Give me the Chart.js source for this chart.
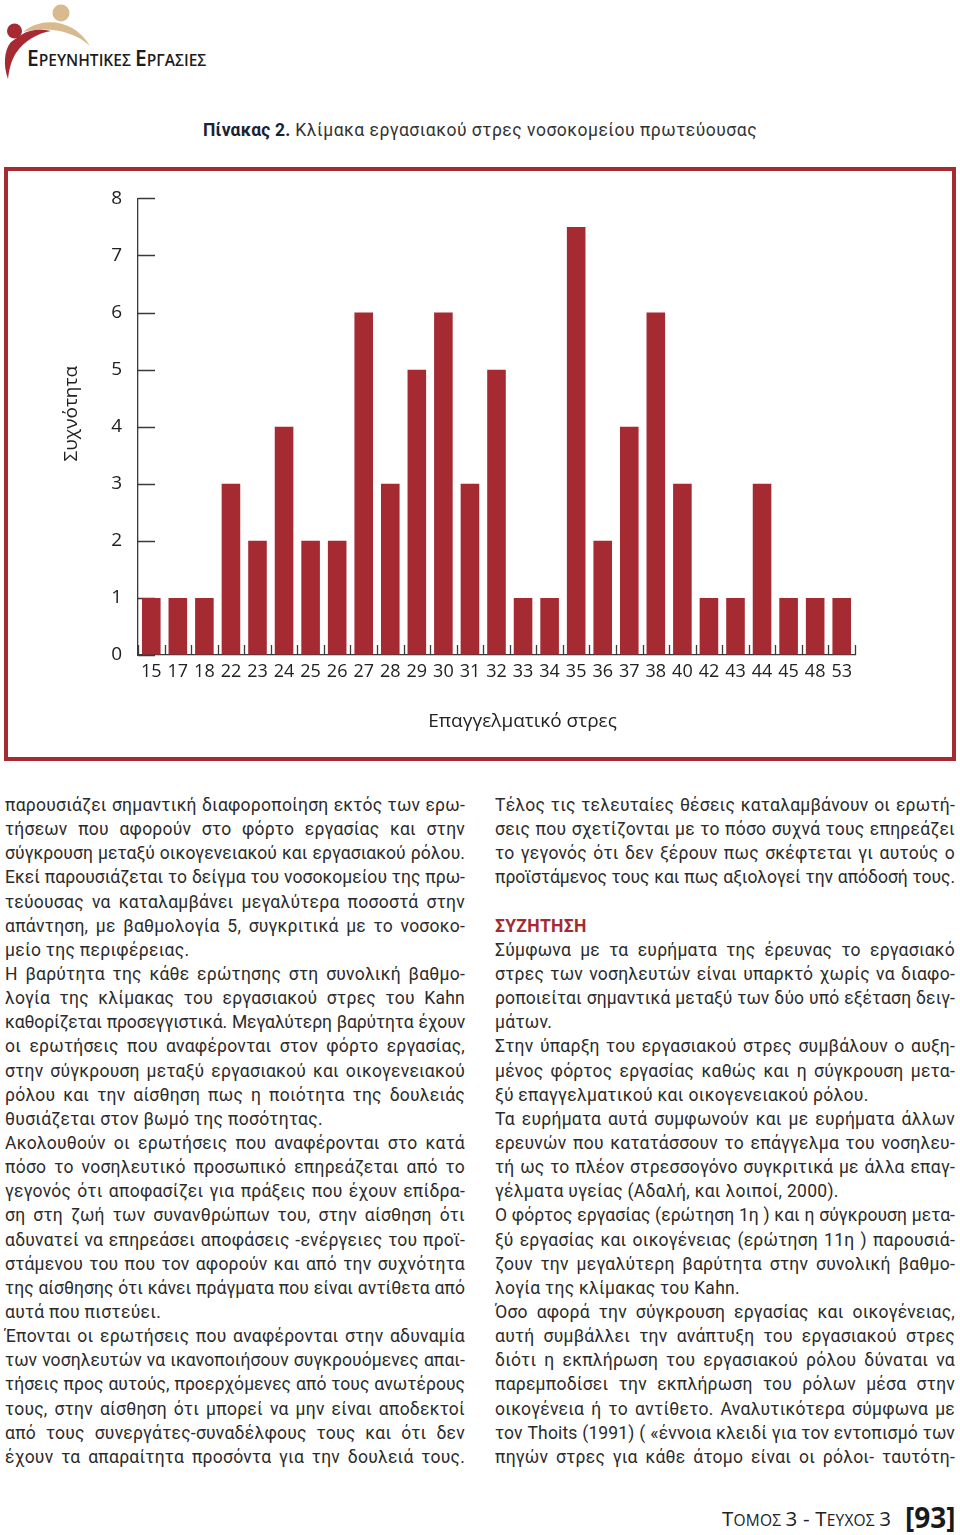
<!DOCTYPE html>
<html>
<head>
<meta charset="utf-8">
<script src="https://cdn.jsdelivr.net/npm/chart.js@4.4.1/dist/chart.umd.min.js"></script>
<style>
  body { margin: 0; background: #fff; font-family: Roboto, "Noto Sans", sans-serif; color: #2b2b2b; }
  #page { position: relative; width: 960px; height: 1535px; overflow: hidden; }
  .abs { position: absolute; }
  #logoText { left: 27px; top: 44px; font-family: "Open Sans", sans-serif; font-weight: 600; color: #1d1d1d; white-space: nowrap; }
  #logoText .big { font-size: 21px; }
  #logoText .sm { font-size: 15.5px; }
  #caption { left: 203px; top: 120px; font-size: 17.5px; letter-spacing: 0.5px; color: #333; white-space: nowrap; }
  #caption b { color: #1b2236; letter-spacing: 0.2px; }
  #frame { left: 4px; top: 167px; width: 944px; height: 586px; border: 4px solid #a52a32; }
  #wrap { position: absolute; left: 0; top: 0; width: 944px; height: 586px; }
  .col { width: 460px; }
  .ln { height: 24.15px; line-height: 24.15px; font-size: 17.5px; letter-spacing: 0.3px; white-space: nowrap; text-align: justify; text-align-last: justify; }
  .ln.last { text-align-last: left; }
  .ln.head { color: #a52a32; font-weight: 700; }
  #footer { left: 722px; top: 1504px; font-family: "Open Sans", sans-serif; color: #222; white-space: nowrap; letter-spacing: 0.2px; }
  #footer .big { font-size: 20.5px; }
  #footer .sm { font-size: 15.5px; }
  #pageNo { left: 905px; top: 1498px; font-family: "Open Sans", sans-serif; font-weight: 700; font-size: 28px; color: #1a1a1a; }
</style>
</head>
<body>
<div id="page">
  <svg class="abs" style="left:0;top:0" width="100" height="82" viewBox="0 0 100 82">
    <circle cx="61" cy="13" r="8.5" fill="#d9b98e"/>
    <path d="M23,32 C42,16 74,19 90,46 C74,31 48,26 23,32 Z" fill="#d9b98e"/>
    <circle cx="14.5" cy="31" r="7.5" fill="#a52a32"/>
    <path d="M21,35 C30,29 41,29 51,31 C38,33 24,41 16,53 C11,61 9,70 8,79 C3,66 4,50 11,42 Z" fill="#a52a32"/>
  </svg>
  <div id="logoText" class="abs"><span class="big">Ε</span><span class="sm">ΡΕΥΝΗΤΙΚΕΣ</span> <span class="big">Ε</span><span class="sm">ΡΓΑΣΙΕΣ</span></div>

  <div id="caption" class="abs"><b>Πίνακας 2.</b> Κλίμακα εργασιακού στρες νοσοκομείου πρωτεύουσας</div>

  <div id="frame" class="abs">
    <div id="wrap"><canvas id="stressChart"></canvas></div>
  </div>

  <div id="leftCol" class="abs col" style="left:5px;top:793px"></div>
  <div id="rightCol" class="abs col" style="left:495px;top:793px"></div>

  <div id="footer" class="abs"><span class="big">Τ</span><span class="sm">ΟΜΟΣ</span> <span class="big">3 - Τ</span><span class="sm">ΕΥΧΟΣ</span> <span class="big">3</span></div>
  <div id="pageNo" class="abs">[93]</div>
</div>

<script>
// chart data
var stressScores = ['15','17','18','22','23','24','25','26','27','28','29','30','31','32','33','34','35','36','37','38','40','42','43','44','45','48','53'];
var frequencies  = [1, 1, 1, 3, 2, 4, 2, 2, 6, 3, 5, 6, 3, 5, 1, 1, 7.5, 2, 4, 6, 3, 1, 1, 3, 1, 1, 1];
var yTickValues  = [0, 1, 2, 3, 4, 5, 6, 7, 8];
var yTitle = 'Συχνότητα';
var xTitle = 'Επαγγελματικό στρες';

// body text, '~' marks a paragraph's last (not justified) line
var leftLines = [
  'παρουσιάζει σημαντική διαφοροποίηση εκτός των ερω-',
  'τήσεων που αφορούν στο φόρτο εργασίας και στην',
  'σύγκρουση μεταξύ οικογενειακού και εργασιακού ρόλου.',
  'Εκεί παρουσιάζεται το δείγμα του νοσοκομείου της πρω-',
  'τεύουσας να καταλαμβάνει μεγαλύτερα ποσοστά στην',
  'απάντηση, με βαθμολογία 5,  συγκριτικά με το νοσοκο-',
  '~μείο της περιφέρειας.',
  'Η βαρύτητα της κάθε ερώτησης στη συνολική βαθμο-',
  'λογία της κλίμακας του εργασιακού στρες του Kahn',
  'καθορίζεται προσεγγιστικά. Μεγαλύτερη βαρύτητα έχουν',
  'οι ερωτήσεις που αναφέρονται στον φόρτο εργασίας,',
  'στην σύγκρουση μεταξύ εργασιακού και οικογενειακού',
  'ρόλου και την αίσθηση πως η ποιότητα της δουλειάς',
  '~θυσιάζεται στον βωμό της ποσότητας.',
  'Ακολουθούν οι ερωτήσεις που αναφέρονται στο κατά',
  'πόσο το νοσηλευτικό προσωπικό επηρεάζεται από το',
  'γεγονός ότι αποφασίζει για πράξεις που έχουν επίδρα-',
  'ση στη ζωή των συνανθρώπων του, στην αίσθηση ότι',
  'αδυνατεί να επηρεάσει αποφάσεις -ενέργειες του προϊ-',
  'στάμενου του που τον αφορούν και από την  συχνότητα',
  'της αίσθησης ότι κάνει πράγματα που είναι αντίθετα από',
  '~αυτά που πιστεύει.',
  'Έπονται οι ερωτήσεις που αναφέρονται  στην αδυναμία',
  'των νοσηλευτών να ικανοποιήσουν συγκρουόμενες απαι-',
  'τήσεις προς αυτούς, προερχόμενες από τους ανωτέρους',
  'τους, στην αίσθηση ότι μπορεί να μην είναι αποδεκτοί',
  'από τους συνεργάτες-συναδέλφους τους και ότι δεν',
  'έχουν τα απαραίτητα προσόντα για την δουλειά τους.'
];
var rightLines = [
  'Τέλος τις τελευταίες θέσεις καταλαμβάνουν οι ερωτή-',
  'σεις που σχετίζονται με το πόσο συχνά τους επηρεάζει',
  'το γεγονός ότι δεν ξέρουν πως σκέφτεται γι αυτούς ο',
  'προϊστάμενος τους και πως αξιολογεί την απόδοσή τους.',
  '~ ',
  '#ΣΥΖΗΤΗΣΗ',
  'Σύμφωνα με τα ευρήματα της έρευνας το εργασιακό',
  'στρες των νοσηλευτών είναι υπαρκτό χωρίς να διαφο-',
  'ροποιείται σημαντικά μεταξύ των δύο υπό εξέταση δειγ-',
  '~μάτων.',
  'Στην ύπαρξη του εργασιακού στρες συμβάλουν  ο αυξη-',
  'μένος φόρτος εργασίας καθώς και η σύγκρουση μετα-',
  '~ξύ επαγγελματικού και οικογενειακού ρόλου.',
  'Τα ευρήματα αυτά συμφωνούν και με ευρήματα άλλων',
  'ερευνών που κατατάσσουν το επάγγελμα του νοσηλευ-',
  'τή ως το πλέον στρεσσογόνο συγκριτικά με άλλα επαγ-',
  '~γέλματα υγείας (Αδαλή, και λοιποί, 2000).',
  'Ο φόρτος εργασίας (ερώτηση 1η ) και η σύγκρουση μετα-',
  'ξύ εργασίας και οικογένειας (ερώτηση 11η ) παρουσιά-',
  'ζουν την μεγαλύτερη βαρύτητα στην συνολική βαθμο-',
  '~λογία της κλίμακας του Kahn.',
  'Όσο αφορά την σύγκρουση εργασίας και οικογένειας,',
  'αυτή συμβάλλει την ανάπτυξη του εργασιακού στρες',
  'διότι η εκπλήρωση του εργασιακού ρόλου δύναται να',
  'παρεμποδίσει την εκπλήρωση του ρόλων μέσα στην',
  'οικογένεια ή το αντίθετο. Αναλυτικότερα σύμφωνα με',
  'τον Thoits (1991) ( «έννοια κλειδί για τον εντοπισμό των',
  'πηγών στρες για κάθε άτομο είναι οι ρόλοι- ταυτότη-'
];

var colWidth = 460;

function fillColumn(id, lines) {
  var col = document.getElementById(id);
  lines.forEach(function(t) {
    var d = document.createElement('div');
    d.className = 'ln';
    if (t.charAt(0) === '~') { d.className += ' last'; t = t.slice(1); }
    else if (t.charAt(0) === '#') { d.className += ' last head'; t = t.slice(1); }
    var s = document.createElement('span');
    s.textContent = t;
    d.appendChild(s);
    col.appendChild(d);
    // squeeze lines that are too long for the column
    var w = s.getBoundingClientRect().width;
    if (w > colWidth - 2) {
      var ls = 0.3 - (w - colWidth + 3) / t.length;
      d.style.letterSpacing = ls.toFixed(2) + 'px';
    }
  });
}
fillColumn('leftCol', leftLines);
fillColumn('rightCol', rightLines);

Chart.defaults.font.family = '"Open Sans", sans-serif';
Chart.defaults.color = '#222';

var axisColor = '#3a3a3a';

// ticks pointing inwards + axis titles placed like the print
var axisMarks = {
  id: 'axisMarks',
  beforeDatasetsDraw: function(chart) {
    var ctx = chart.ctx, a = chart.chartArea;
    var x = chart.scales.x, y = chart.scales.y;
    ctx.save();
    ctx.strokeStyle = axisColor;
    ctx.lineWidth = 1.3;
    ctx.beginPath();
    y.ticks.forEach(function(t) {
      var py = Math.round(y.getPixelForValue(t.value)) + 0.5;
      ctx.moveTo(a.left, py);
      ctx.lineTo(a.left + 17, py);
    });
    for (var i = 0; i <= stressScores.length; i++) {
      var px = Math.round(x.getPixelForValue(i - 0.5)) + 0.5;
      ctx.moveTo(px, a.bottom);
      ctx.lineTo(px, a.bottom - 10);
    }
    ctx.stroke();
    ctx.restore();
  },
  afterDraw: function(chart) {
    var ctx = chart.ctx, a = chart.chartArea;
    ctx.save();
    ctx.fillStyle = '#222';
    ctx.font = '19px "Open Sans", sans-serif';
    ctx.textAlign = 'center';
    ctx.textBaseline = 'middle';
    ctx.fillText(xTitle, (a.left + a.right) / 2 + 26, a.bottom + 67);
    ctx.translate(a.left - 66, (a.top + a.bottom) / 2 - 13);
    ctx.rotate(-Math.PI / 2);
    ctx.fillText(yTitle, 0, 0);
    ctx.restore();
  }
};

var stressChart = new Chart(document.getElementById('stressChart').getContext('2d'), {
  type: 'bar',
  data: {
    labels: stressScores,
    datasets: [{
      data: frequencies,
      backgroundColor: '#a52a32',
      borderWidth: 0,
      barPercentage: 0.7,
      categoryPercentage: 1.0
    }]
  },
  options: {
    responsive: true,
    maintainAspectRatio: false,
    animation: false,
    layout: { padding: { left: 50, top: 27, right: 97, bottom: 22 } },
    plugins: { legend: { display: false }, tooltip: { enabled: false } },
    scales: {
      x: {
        grid: { drawOnChartArea: false, drawTicks: false },
        border: { display: true, color: axisColor, width: 1.3 },
        ticks: { padding: 6, font: { size: 18 }, color: '#222', maxRotation: 0, autoSkip: false },
        afterFit: function(scale) { scale.height = 80; }
      },
      y: {
        min: 0,
        max: 8,
        afterBuildTicks: function(scale) {
          scale.ticks = yTickValues.map(function(v) { return { value: v }; });
        },
        grid: { drawOnChartArea: false, drawTicks: false },
        border: { display: true, color: axisColor, width: 1.3 },
        ticks: { padding: 16, font: { size: 19 }, color: '#222' },
        afterFit: function(scale) { scale.width = 80; }
      }
    }
  },
  plugins: [axisMarks]
});
</script>
</body>
</html>
